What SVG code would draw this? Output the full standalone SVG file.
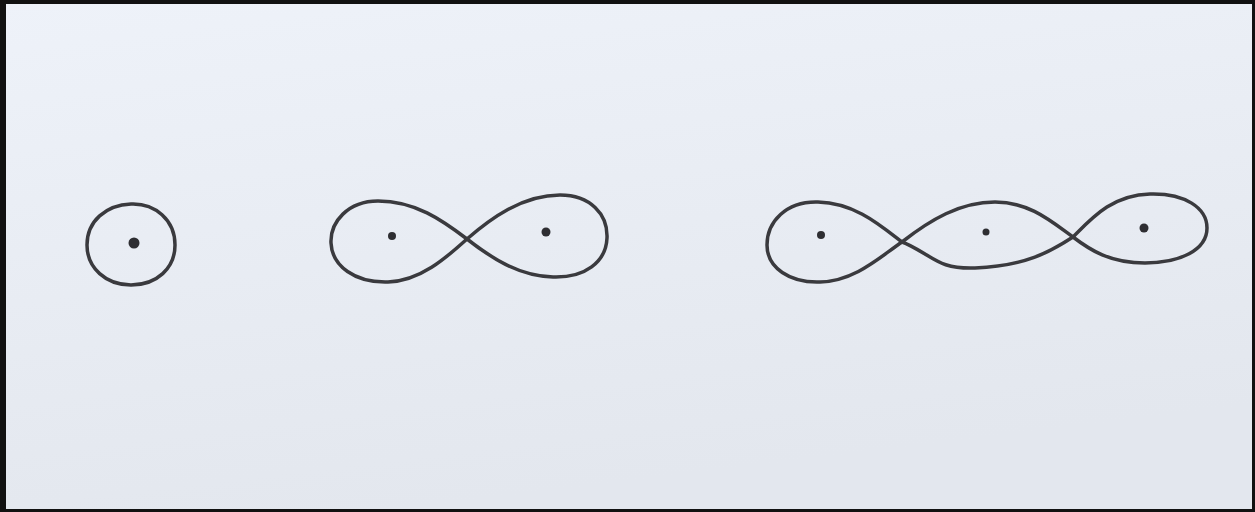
<svg xmlns="http://www.w3.org/2000/svg" width="1255" height="512" viewBox="0 0 1255 512">
<defs>
<linearGradient id="paper" x1="0" y1="0" x2="0.3" y2="1">
<stop offset="0" stop-color="#eef2f9"/>
<stop offset="1" stop-color="#e3e7ee"/>
</linearGradient>
<style>
.ink{fill:none;stroke:#3a3a3e;stroke-width:3.5;stroke-linecap:round;stroke-linejoin:round}
.dot{fill:#2e2e32}
</style>
</defs>
<rect x="0" y="0" width="1255" height="512" fill="url(#paper)"/>
<path d="M0,0H1255V512H0Z M6,4V509H1252V4Z" fill="#111" fill-rule="evenodd"/>
<g id="atom1">
<path class="ink" d="M131,204 C155,203 175,220 175,245 C175,268 157,285 131,285 C106,285 87,268 87,245 C87,221 106,205 131,204 Z"/>
<circle class="dot" cx="134" cy="243" r="5.5"/>
</g>
<g id="atom2">
<path class="ink" d="M467,239 C442,220 415,201 378,201 C348,201 330,222 331,243 C332,266 355,283 388,282 C420,281 446,258 467,239 Z"/>
<path class="ink" d="M467,239 C490,219 522,195 560,195 C590,195 608,214 607,238 C606,262 585,278 553,277 C518,276 490,257 467,239 Z"/>
<circle class="dot" cx="392" cy="236" r="4"/>
<circle class="dot" cx="546" cy="232" r="4.5"/>
</g>
<g id="atom3">
<path class="ink" d="M902,242 C880,225 855,203 818,202 C786,201 767,222 767,245 C767,268 790,283 820,282 C855,281 880,257 902,242 Z"/>
<path class="ink" d="M902,242 C930,220 960,202 995,202 C1030,202 1052,222 1073,237 C1050,252 1025,266 975,268 C948,269 938,262 925,254 C915,248 908,244 902,242 Z"/>
<path class="ink" d="M1073,237 C1092,218 1112,195 1150,194 C1185,193 1207,208 1207,228 C1207,250 1180,263 1145,263 C1110,263 1090,250 1073,237 Z"/>
<circle class="dot" cx="821" cy="235" r="4"/>
<circle class="dot" cx="986" cy="232" r="3.5"/>
<circle class="dot" cx="1144" cy="228" r="4.5"/>
</g>
</svg>
